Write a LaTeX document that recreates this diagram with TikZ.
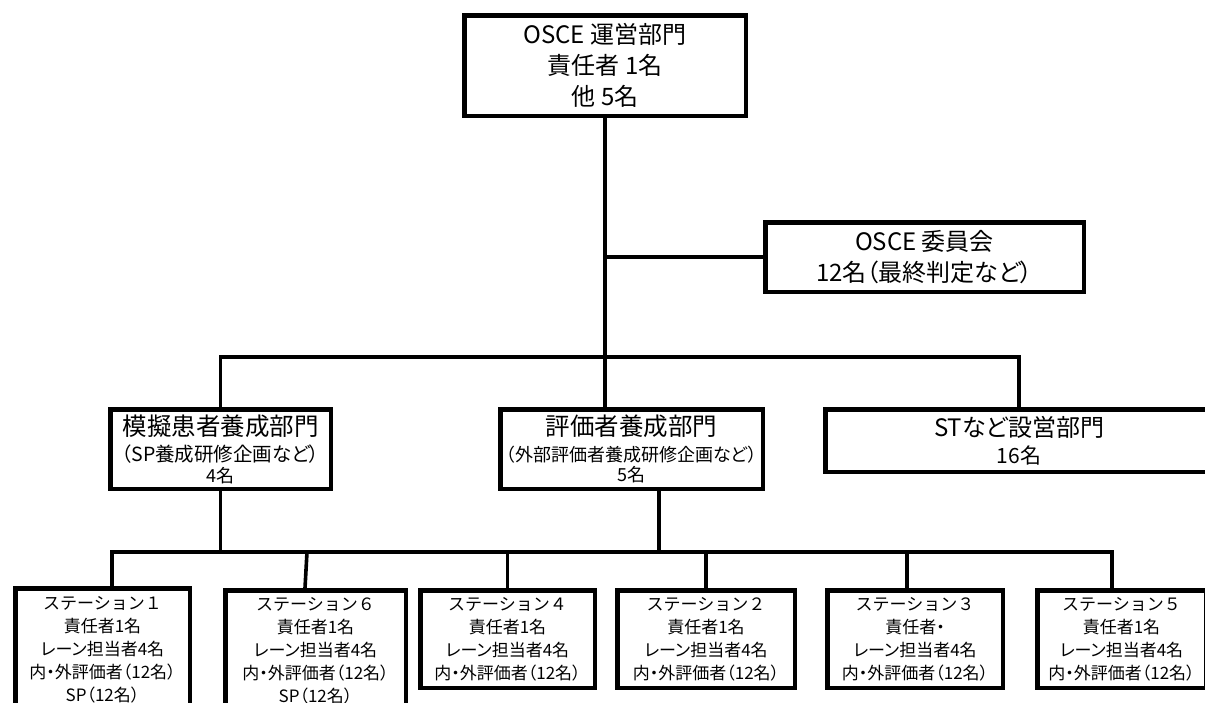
\documentclass[tikz,border=0pt]{standalone}
\usepackage{fontspec}
\setmainfont[RawFeature=+palt]{Noto Sans CJK JP}
\newfontfamily\nopalt{Noto Sans CJK JP}
\begin{document}
\begin{tikzpicture}[x=1pt,y=-1pt,
  box/.style={draw, line width=4.5pt, inner sep=0pt, align=center, fill=white},
  conn/.style={line width=3.6pt},
  bigf/.style={font=\fontsize{24}{31}\selectfont},
  stf/.style={font=\fontsize{17}{23}\selectfont}]
\useasboundingbox (0,0) rectangle (1205,702);
\clip (0,0) rectangle (1205,702);
\fill[white] (0,0) rectangle (1205,702);

\coordinate (busA) at (0,357);
\coordinate (busB) at (0,552);

% nodes
\node[box,bigf,minimum width=281.5pt,minimum height=100.5pt] (top) at (605,65.5)
  {OSCE 運営部門\\責任者 1名\\他 5名};
\node[box,bigf,minimum width=318.5pt,minimum height=69.5pt] (comm) at (924.5,257)
  {OSCE 委員会\\12名（最終判定など）};
\node[box,minimum width=220.5pt,minimum height=79.5pt] (mogi) at (220.5,449)
  {\fontsize{24.5}{27}\selectfont 模擬患者養成部門\\[7pt]\fontsize{19.5}{22}\selectfont （SP養成研修企画など）\\[2pt]\fontsize{18}{22}\selectfont 4名};
\node[box,minimum width=262.5pt,minimum height=79.5pt] (hyoka) at (631.5,449)
  {\fontsize{24.5}{27}\selectfont 評価者養成部門\\[7pt]\fontsize{18}{22}\selectfont （外部評価者養成研修企画など）\\[2pt]\fontsize{18}{22}\selectfont 5名};
\node[box,minimum width=387.5pt,minimum height=62.5pt] (st) at (1019,440.5)
  {\fontsize{24}{28}\selectfont STなど設営部門\\[6pt]\fontsize{21}{29}\selectfont 16名};

\node[box,stf,minimum width=174.5pt,minimum height=122.5pt] (s1) at (102.5,649.5)
  {{\nopalt ステーション１}\\責任者1名\\レーン担当者4名\\内・外評価者（12名）\\SP（12名）};
\node[box,stf,minimum width=180.5pt,minimum height=120.5pt] (s6) at (315.5,650.5)
  {{\nopalt ステーション６}\\責任者1名\\レーン担当者4名\\内・外評価者（12名）\\SP（12名）};
\node[box,stf,minimum width=174.5pt,minimum height=97.5pt] (s4) at (507.5,639)
  {{\nopalt ステーション４}\\責任者1名\\レーン担当者4名\\内・外評価者（12名）};
\node[box,stf,minimum width=177.5pt,minimum height=97.5pt] (s2) at (706,639)
  {{\nopalt ステーション２}\\責任者1名\\レーン担当者4名\\内・外評価者（12名）};
\node[box,stf,minimum width=175.5pt,minimum height=97.5pt] (s3) at (915,639)
  {{\nopalt ステーション３}\\責任者・\\レーン担当者4名\\内・外評価者（12名）};
\node[box,stf,minimum width=168.5pt,minimum height=97.5pt] (s5) at (1121.5,639)
  {{\nopalt ステーション５}\\責任者1名\\レーン担当者4名\\内・外評価者（12名）};

% connectors
\draw[conn] (top.south) -- (top.south |- hyoka.north);
\draw[conn] (top.south |- comm.west) -- (comm.west);
\draw[conn] (mogi.north) -- (mogi.north |- busA) -- (st.north |- busA) -- (st.north);

\draw[conn] (mogi.south) -- (mogi.south |- busB);
\draw[conn] ([xshift=27.5pt]hyoka.south) -- ([xshift=27.5pt]hyoka.south |- busB);
\draw[conn] ([xshift=9.5pt]s1.north) -- ([xshift=9.5pt]s1.north |- busB)
  -- ([xshift=-9.5pt]s5.north |- busB) -- ([xshift=-9.5pt]s5.north);
\draw[conn] ([xshift=-8.5pt]s6.north |- busB) -- ([xshift=-10.5pt]s6.north);
\draw[conn] (s4.north |- busB) -- (s4.north);
\draw[conn] (s2.north |- busB) -- (s2.north);
\draw[conn] ([xshift=-8pt]s3.north |- busB) -- ([xshift=-8pt]s3.north);
\end{tikzpicture}
\end{document}
